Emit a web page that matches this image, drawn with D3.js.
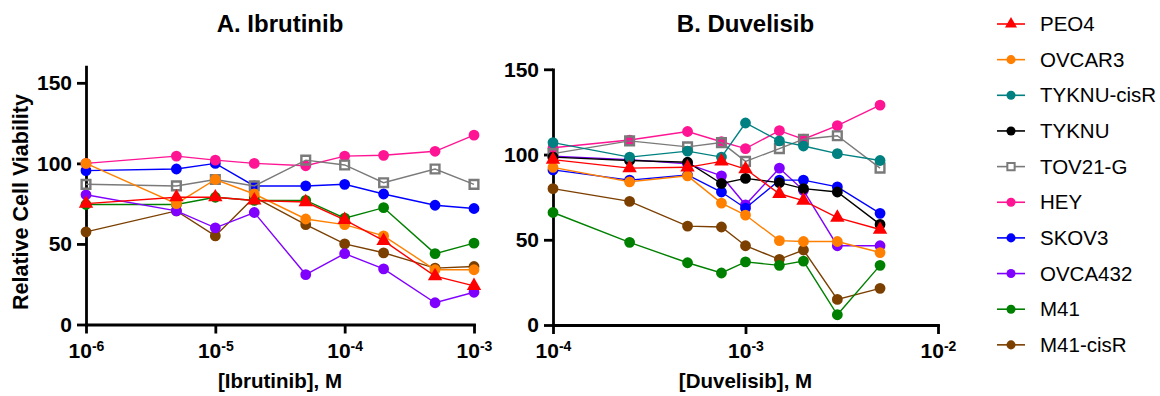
<!DOCTYPE html>
<html>
<head>
<meta charset="utf-8">
<script src="https://cdn.jsdelivr.net/npm/d3@7"></script>
<style>
  body { margin: 0; background: #fff; }
  svg { display: block; font-family: "Liberation Sans", Arial, sans-serif; }
</style>
</head>
<body>
<svg id="chart" width="1160" height="396"></svg>
<script>
// doses (M)
const ibrutinibDose = [1e-6, 5e-6, 1e-5, 2e-5, 5e-5, 1e-4, 2e-4, 5e-4, 1e-3];
const duvelisibDose = [1e-4, 2.5e-4, 5e-4, 7.5e-4, 1e-3, 1.5e-3, 2e-3, 3e-3, 5e-3];

const cellLines = ["PEO4", "OVCAR3", "TYKNU-cisR", "TYKNU", "TOV21-G", "HEY", "SKOV3", "OVCA432", "M41", "M41-cisR"];
const lineColors = ["#ff0000", "#ff8000", "#008080", "#000000", "#7a7a7a", "#ff1493", "#0000ff", "#8000ff", "#008000", "#7b3f00"];
const lineSymbols = ["triangle", "circle", "circle", "circle", "square", "circle", "circle", "circle", "circle", "circle"];

// relative cell viability, one row per cell line (null = not tested)
const ibrutinibViability = [
  [75, 79, 79, 77, 76, 65, 52, 30, 24],
  [100, 75, 90, 81, 65.5, 62, 55, 34, 34],
  null,
  null,
  [87, 86, 90, 86, 102, 99, 88, 96.5, 87],
  [100, 104.5, 102, 100, 98.5, 104.5, 105, 107.5, 117.5],
  [95.5, 96.5, 100, 86, 86, 87, 81, 74, 72],
  [80.5, 70.5, 60, 69.5, 31, 44, 34.5, 13.5, 20],
  [74.5, 74.5, 79, 77, 77, 66, 72.5, 44, 50.5],
  [57.5, 70.5, 55, 79, 62, 50, 44.5, 35, 36]
];
const duvelisibViability = [
  [97, 92, 92.5, 96, 91.5, 77, 73, 63, 56],
  [92.5, 84, 87.5, 71.5, 64.5, 49.5, 49, 49, 42.5],
  [107, 98.5, 102, 98.5, 118.5, 108, 105, 100.5, 96.5],
  [98.5, 96.5, 95.5, 83, 86, 83.5, 80, 78, 59],
  [100.5, 108, 104.5, 107, 96, 103.5, 109, 111, 92],
  [104, 108.5, 113.5, 107.5, 103.5, 114, 109, 117, 129],
  [91, 85, 88, 78, 68.5, 85, 85, 81, 65.5],
  [99, 97, 94.5, 87.5, 70.5, 92, 79, 46.5, 46.5],
  [66, 48.5, 36.5, 30.5, 37, 35, 37.5, 6, 35],
  [80, 72.5, 58, 57.5, 46.5, 38.5, 44, 15, 21.5]
];

const yTicks = [0, 50, 100, 150];
const ibrutinibXTicks = [1e-6, 1e-5, 1e-4, 1e-3];
const duvelisibXTicks = [1e-4, 1e-3, 1e-2];

const svg = d3.select("#chart");

function symbolPath(kind, big) {
    const k = big ? 1 : 0.7;
    if (kind === "triangle") return d3.symbol(d3.symbolTriangle, 90 * k)();
    if (kind === "square") return d3.symbol(d3.symbolSquare, 76 * k)();
    return d3.symbol(d3.symbolCircle, 92 * k)();
}

function drawPanel(cfg) {
    const g = svg.append("g");

    const x = d3.scaleLog().domain(cfg.xDomain).range([cfg.left, cfg.right]);
    const y = d3.scaleLinear().domain(cfg.yDomain).range([cfg.bottom, cfg.top]);

    // title
    g.append("text")
        .attr("x", (cfg.left + cfg.right) / 2)
        .attr("y", 32)
        .attr("text-anchor", "middle")
        .style("font-size", "24px")
        .style("font-weight", "bold")
        .text(cfg.title);

    // y axis
    const yAxis = g.append("g")
        .attr("transform", "translate(" + cfg.left + ",0)")
        .call(d3.axisLeft(y).tickValues(yTicks).tickSize(9).tickSizeOuter(0).tickPadding(5));

    // x axis
    const xAxis = g.append("g")
        .attr("transform", "translate(0," + cfg.bottom + ")")
        .call(d3.axisBottom(x).tickValues(cfg.xTicks).tickSize(9).tickSizeOuter(0).tickFormat(""));

    [xAxis, yAxis].forEach(a => {
        a.select(".domain").attr("stroke", "#000").attr("stroke-width", 2.8).attr("stroke-linecap", "square");
        a.selectAll(".tick line").attr("stroke", "#000").attr("stroke-width", 2.8);
    });
    yAxis.selectAll(".tick text")
        .attr("fill", "#000")
        .style("font-size", "21px")
        .style("font-weight", "bold")
        .style("font-family", "'Liberation Sans', Arial, sans-serif");

    xAxis.selectAll(".tick").each(function(d) {
        const t = d3.select(this).append("text")
            .attr("y", 33)
            .attr("text-anchor", "middle")
            .attr("fill", "#000")
            .style("font-size", "21px")
            .style("font-weight", "bold")
            .style("font-family", "'Liberation Sans', Arial, sans-serif");
        t.append("tspan").text("10");
        t.append("tspan").attr("dy", "-0.5em").style("font-size", "14px").text(Math.round(Math.log10(d)));
    });

    // axis labels
    g.append("text")
        .attr("x", (cfg.left + cfg.right) / 2)
        .attr("y", 388)
        .attr("text-anchor", "middle")
        .style("font-size", "20.5px")
        .style("font-weight", "bold")
        .text(cfg.xLabel);

    if (cfg.yLabel) {
        g.append("text")
            .attr("transform", "translate(28,202) rotate(-90)")
            .attr("text-anchor", "middle")
            .style("font-size", "21.5px")
            .style("font-weight", "bold")
            .text(cfg.yLabel);
    }

    // series, drawn last-to-first so PEO4 ends on top
    const line = d3.line().x(d => x(d[0])).y(d => y(d[1]));
    const series = cellLines.map((name, i) => ({
        name: name, color: lineColors[i], symbol: lineSymbols[i],
        pts: cfg.values[i] ? cfg.dose.map((dv, j) => [dv, cfg.values[i][j]]) : null
    })).filter(s => s.pts).reverse();

    series.forEach(s => {
        const sg = g.append("g");
        sg.append("path")
            .datum(s.pts)
            .attr("d", line)
            .attr("fill", "none")
            .attr("stroke", s.color)
            .attr("stroke-width", 1.4);
        sg.selectAll("path.mark")
            .data(s.pts)
            .join("path")
            .attr("class", "mark")
            .attr("transform", d => "translate(" + x(d[0]) + "," + y(d[1]) + ")")
            .attr("d", symbolPath(s.symbol, true))
            .attr("fill", s.symbol === "square" ? "none" : s.color)
            .attr("stroke", s.symbol === "square" ? s.color : "none")
            .attr("stroke-width", 2.4);
    });
}

drawPanel({
    title: "A. Ibrutinib", xLabel: "[Ibrutinib], M", yLabel: "Relative Cell Viability",
    left: 86, right: 474, top: 66.7, bottom: 324.5,
    xDomain: [1e-6, 1e-3], yDomain: [0, 160], xTicks: ibrutinibXTicks,
    dose: ibrutinibDose, values: ibrutinibViability
});

drawPanel({
    title: "B. Duvelisib", xLabel: "[Duvelisib], M", yLabel: null,
    left: 553, right: 938, top: 69.3, bottom: 325,
    xDomain: [1e-4, 1e-2], yDomain: [0, 150], xTicks: duvelisibXTicks,
    dose: duvelisibDose, values: duvelisibViability
});

// legend
const legend = svg.append("g").attr("transform", "translate(997,24)");
cellLines.forEach((name, i) => {
    const row = legend.append("g").attr("transform", "translate(0," + (i * 35.65) + ")");
    row.append("line")
        .attr("x1", 0).attr("x2", 28)
        .attr("stroke", lineColors[i]).attr("stroke-width", 1.6);
    row.append("path")
        .attr("transform", "translate(14,0)")
        .attr("d", symbolPath(lineSymbols[i], false))
        .attr("fill", lineSymbols[i] === "square" ? "#fff" : lineColors[i])
        .attr("stroke", lineSymbols[i] === "square" ? lineColors[i] : "none")
        .attr("stroke-width", 2);
    row.append("text")
        .attr("x", 43)
        .attr("dy", "0.35em")
        .style("font-size", "20.5px")
        .text(name);
});
</script>
</body>
</html>
